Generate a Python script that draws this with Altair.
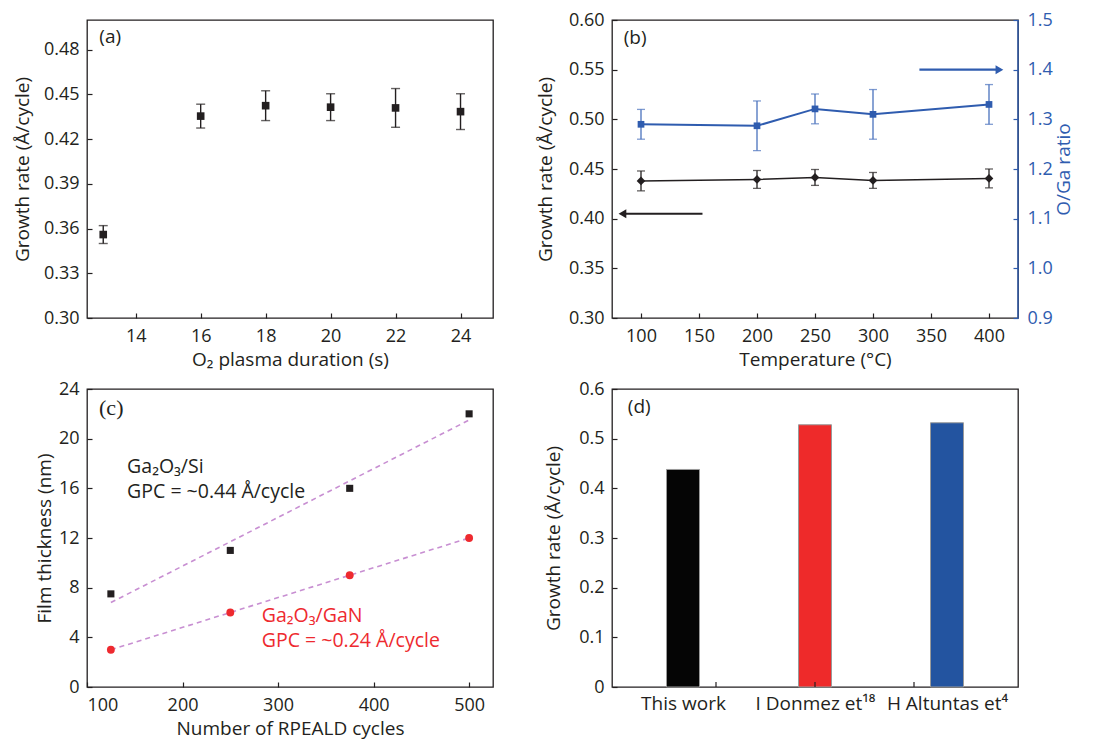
import json
import altair as alt
import pandas as pd

# ---------------- data ----------------
# (a) growth rate vs O2 plasma duration
a_duration = [13, 16, 18, 20, 22, 24]
a_rate = [0.356, 0.4355, 0.4425, 0.4415, 0.441, 0.4385]
a_err = [0.006, 0.008, 0.010, 0.009, 0.013, 0.012]
a_xticks = [14, 16, 18, 20, 22, 24]
a_yticks = [0.30, 0.33, 0.36, 0.39, 0.42, 0.45, 0.48]

# (b) growth rate and O/Ga ratio vs temperature
b_temp = [100, 200, 250, 300, 400]
b_rate = [0.438, 0.4395, 0.4415, 0.4385, 0.4405]
b_rate_err = [0.010, 0.009, 0.008, 0.008, 0.0095]
b_ratio = [1.290, 1.287, 1.321, 1.310, 1.330]
b_ratio_err = [0.030, 0.050, 0.030, 0.050, 0.040]
b_xticks = [100, 150, 200, 250, 300, 350, 400]
b_left_ticks = [0.30, 0.35, 0.40, 0.45, 0.50, 0.55, 0.60]
b_right_ticks = [0.9, 1.0, 1.1, 1.2, 1.3, 1.4, 1.5]
b_arrow_rate_x = [153, 84]
b_arrow_rate_y = [0.405]
b_arrow_ratio_x = [340, 409]
b_arrow_ratio_y = [1.40]

# (c) film thickness vs number of cycles
c_cycles = [125, 250, 375, 500]
c_si = [7.5, 11, 16, 22]
c_gan = [3, 6, 9, 12]
c_fit_cycles = [125, 500]
c_si_fit = [6.8, 21.5]
c_gan_fit = [3.0, 12.0]
c_xticks = [100, 200, 300, 400, 500]
c_yticks = [0, 4, 8, 12, 16, 20, 24]
c_notes = ["Ga₂O₃/Si", "GPC = ~0.44 Å/cycle", "Ga₂O₃/GaN", "GPC = ~0.24 Å/cycle"]
c_note_x = [142, 142, 283, 283]
c_note_y = [17.7, 15.7, 5.7, 3.7]
c_note_group = ["Si", "Si", "GaN", "GaN"]

# (d) comparison of growth rates
d_refs = ["This work", "I Donmez et¹⁸", "H Altuntas et⁴"]
d_rate = [0.438, 0.528, 0.532]
d_yticks = [0, 0.1, 0.2, 0.3, 0.4, 0.5, 0.6]
d_tick_marks = [1.25, 2.0, 2.75]

panel_labels = ["(a)", "(b)", "(c)", "(d)"]
panel_label_x = [12.88, 85.1, 112.6, 0.582]
panel_label_y = [0.4885, 0.5817, 22.46, 0.5635]

# ---------------- style ----------------
FONT = "Open Sans"
INK = "#231f20"
BLUE = "#2f5caf"
RED = "#ee2a2f"
PURPLE = "#c88fd2"
BAR_COLORS = ["#050505", "#ee2a2a", "#2354a0"]
W, H = 406, 298


def ax(values, fmt=None, title=None, **kw):
    d = dict(values=values, title=title, offset=-5, tickSize=5, domain=False,
             grid=False, labelPadding=8, tickColor=INK, tickWidth=1.2,
             labelColor=INK, titleColor=INK, labelFont=FONT, titleFont=FONT,
             labelFontSize=18, titleFontSize=19, titleFontWeight="normal")
    if fmt:
        d["format"] = fmt
    d.update(kw)
    return alt.Axis(**d)


def qx(field, domain, axis):
    return alt.X(field, type="quantitative",
                 scale=alt.Scale(domain=domain, nice=False, zero=False), axis=axis)


def qy(field, domain, axis):
    return alt.Y(field, type="quantitative",
                 scale=alt.Scale(domain=domain, nice=False, zero=False), axis=axis)


def panel_label(i, serif=False):
    return alt.Chart().mark_text(
        align="left", baseline="middle",
        font="Liberation Serif" if serif else FONT,
        fontSize=22 if serif else 19, color=INK,
    ).encode(x=alt.datum(panel_label_x[i]), y=alt.datum(panel_label_y[i]),
             text=alt.value(panel_labels[i]))


# ---------------- (a) ----------------
dfa = pd.DataFrame({"dur": a_duration, "rate": a_rate, "err": a_err})
dfa["lo"] = dfa["rate"] - dfa["err"]
dfa["hi"] = dfa["rate"] + dfa["err"]
ax_ax = ax(a_xticks, title="O₂ plasma duration (s)", titlePadding=5, labelPadding=9)
ay_ax = ax(a_yticks, ".2f", "Growth rate (Å/cycle)", titlePadding=11)
A_X = [12.5, 25]
A_Y = [0.30, 0.50]
a_eb = alt.Chart(dfa).mark_errorbar(ticks=True, size=9, thickness=1.4, color=INK).encode(
    x=qx("dur", A_X, ax_ax), y=qy("lo", A_Y, ay_ax), y2="hi:Q")
a_pts = alt.Chart(dfa).mark_square(size=58, color=INK, opacity=1).encode(
    x=qx("dur", A_X, ax_ax), y=qy("rate", A_Y, ay_ax))
chart_a = alt.layer(a_eb, a_pts, panel_label(0)).properties(width=W, height=H)

# ---------------- (b) ----------------
dfb = pd.DataFrame({"temp": b_temp, "rate": b_rate, "rerr": b_rate_err,
                    "ratio": b_ratio, "qerr": b_ratio_err})
dfb["rlo"] = dfb["rate"] - dfb["rerr"]
dfb["rhi"] = dfb["rate"] + dfb["rerr"]
dfb["qlo"] = dfb["ratio"] - dfb["qerr"]
dfb["qhi"] = dfb["ratio"] + dfb["qerr"]
B_X = [75, 425]
BL = [0.30, 0.60]
BR = [0.9, 1.5]
bx_ax = ax(b_xticks, title="Temperature (°C)", titlePadding=5, labelPadding=9)
bl_ax = ax(b_left_ticks, ".2f", "Growth rate (Å/cycle)", titlePadding=13)
br_ax = ax(b_right_ticks, ".1f", "O/Ga ratio", orient="right", titlePadding=2,
           labelPadding=9, titleAngle=270, titleBaseline="top",
           labelColor=BLUE, titleColor=BLUE, tickColor=BLUE)

arr_k = pd.DataFrame({"x1": [b_arrow_rate_x[0]], "x2": [b_arrow_rate_x[1]], "y": b_arrow_rate_y})
arr_b = pd.DataFrame({"x1": [b_arrow_ratio_x[0]], "x2": [b_arrow_ratio_x[1]], "y": b_arrow_ratio_y})

left_layer = alt.layer(
    alt.Chart(dfb).mark_errorbar(ticks=True, size=8, thickness=1.3, color=INK).encode(
        x=qx("temp", B_X, bx_ax), y=qy("rlo", BL, bl_ax), y2="rhi:Q"),
    alt.Chart(dfb).mark_line(color=INK, strokeWidth=1.5).encode(
        x=qx("temp", B_X, bx_ax), y=qy("rate", BL, bl_ax)),
    alt.Chart(dfb).mark_point(shape="diamond", filled=True, size=75, color=INK, opacity=1).encode(
        x=qx("temp", B_X, bx_ax), y=qy("rate", BL, bl_ax)),
    alt.Chart(arr_k).mark_rule(color=INK, strokeWidth=2).encode(
        x=qx("x1", B_X, bx_ax), x2="x2:Q", y=qy("y", BL, bl_ax)),
    alt.Chart(arr_k).mark_point(shape="triangle-left", filled=True, size=80, color=INK, opacity=1).encode(
        x=qx("x2", B_X, bx_ax), y=qy("y", BL, bl_ax)),
    panel_label(1),
)
right_layer = alt.layer(
    alt.Chart(dfb).mark_errorbar(ticks=True, size=8, thickness=1.3, color="#4a72bd").encode(
        x=qx("temp", B_X, bx_ax), y=qy("qlo", BR, br_ax), y2="qhi:Q"),
    alt.Chart(dfb).mark_line(color=BLUE, strokeWidth=2).encode(
        x=qx("temp", B_X, bx_ax), y=qy("ratio", BR, br_ax)),
    alt.Chart(dfb).mark_square(size=45, color=BLUE, opacity=1).encode(
        x=qx("temp", B_X, bx_ax), y=qy("ratio", BR, br_ax)),
    alt.Chart(arr_b).mark_rule(color=BLUE, strokeWidth=2.2).encode(
        x=qx("x1", B_X, bx_ax), x2="x2:Q", y=qy("y", BR, br_ax)),
    alt.Chart(arr_b).mark_point(shape="triangle-right", filled=True, size=80, color=BLUE, opacity=1).encode(
        x=qx("x2", B_X, bx_ax), y=qy("y", BR, br_ax)),
    alt.Chart().mark_rule(color=BLUE, strokeWidth=1.4).encode(
        x=alt.value(W), y=alt.value(0), y2=alt.value(H)),
)
chart_b = alt.layer(left_layer, right_layer).resolve_scale(y="independent").properties(
    width=W, height=H)

# ---------------- (c) ----------------
dfc = pd.DataFrame({"cyc": c_cycles, "si": c_si, "gan": c_gan})
dff = pd.DataFrame({"cyc": c_fit_cycles * 2, "val": c_si_fit + c_gan_fit,
                    "fit": ["Si"] * len(c_fit_cycles) + ["GaN"] * len(c_fit_cycles)})
dfn = pd.DataFrame({"x": c_note_x, "y": c_note_y, "t": c_notes, "g": c_note_group})
C_X = [100, 525]
C_Y = [0, 24]
cx_ax = ax(c_xticks, title="Number of RPEALD cycles", titlePadding=5, labelPadding=9)
cy_ax = ax(c_yticks, title="Film thickness (nm)", titlePadding=4)
c_fit = alt.Chart(dff).mark_line(color=PURPLE, strokeDash=[5, 4], strokeWidth=1.6).encode(
    x=qx("cyc", C_X, cx_ax), y=qy("val", C_Y, cy_ax), detail="fit:N")
c_si_pts = alt.Chart(dfc).mark_square(size=50, color=INK, opacity=1).encode(
    x=qx("cyc", C_X, cx_ax), y=qy("si", C_Y, cy_ax))
c_gan_pts = alt.Chart(dfc).mark_circle(size=62, color=RED, opacity=1).encode(
    x=qx("cyc", C_X, cx_ax), y=qy("gan", C_Y, cy_ax))
c_txt = alt.Chart(dfn).mark_text(align="left", baseline="middle", font=FONT, fontSize=19.5).encode(
    x=qx("x", C_X, cx_ax), y=qy("y", C_Y, cy_ax), text="t:N",
    color=alt.Color("g:N", scale=alt.Scale(domain=["Si", "GaN"], range=[INK, RED]), legend=None))
chart_c = alt.layer(c_fit, c_si_pts, c_gan_pts, c_txt, panel_label(2, serif=True)).properties(
    width=W, height=H)

# ---------------- (d) ----------------
dfd = pd.DataFrame({"ref": d_refs, "rate": d_rate, "pos": list(range(1, len(d_refs) + 1))})
label_expr = json.dumps(d_refs, ensure_ascii=False) + "[datum.value - 1]"
D_X = [0.5, len(d_refs) + 0.5]
D_Y = [0, 0.6]
dx_ax = alt.Axis(values=list(range(1, len(d_refs) + 1)), labelExpr=label_expr, ticks=False,
                 domain=False, grid=False, title=None, labelPadding=7, labelColor=INK,
                 labelFont=FONT, labelFontSize=19)
dy_ax = ax(d_yticks, ".1~f", "Growth rate (Å/cycle)", titlePadding=15)
d_bars = alt.Chart(dfd).mark_bar(size=33, stroke="#9a9a9a", strokeWidth=1).encode(
    x=qx("pos", D_X, dx_ax), y=qy("rate", D_Y, dy_ax),
    color=alt.Color("ref:N", scale=alt.Scale(domain=d_refs, range=BAR_COLORS), legend=None))
d_ticks = alt.Chart(pd.DataFrame({"t": d_tick_marks})).mark_rule(color=INK, strokeWidth=1.2).encode(
    x=qx("t", D_X, dx_ax), y=alt.datum(0), y2=alt.datum(0.01))
chart_d = alt.layer(d_bars, d_ticks, panel_label(3)).properties(width=W, height=H)

# ---------------- layout ----------------
chart = alt.concat(
    chart_a, chart_b, chart_c, chart_d, columns=2,
    spacing={"row": 71, "column": 119}, bounds="flush",
).resolve_scale(color="independent").properties(
    padding={"left": 4, "top": 2, "right": 5, "bottom": 0}
).configure_view(stroke=INK, strokeWidth=1.3).configure_axis(
    labelFont=FONT, titleFont=FONT
)

chart.save("out.html", embed_options={"renderer": "svg", "actions": False})
